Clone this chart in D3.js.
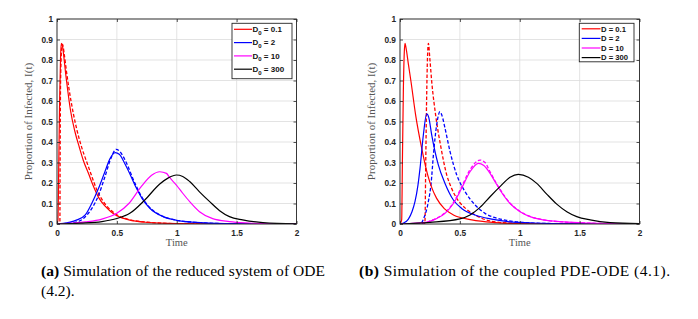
<!DOCTYPE html>
<html>
<head>
<meta charset="utf-8">
<script src="https://cdn.jsdelivr.net/npm/d3@7"></script>
<style>
  body { margin: 0; background: #fff; }
  svg { display: block; }
</style>
</head>
<body>
<svg id="chart" width="698" height="319"></svg>
<script>
// axis ticks
const xTicks = [0, 0.5, 1, 1.5, 2];
const xTickLabels = ['0', '0.5', '1', '1.5', '2'];
const yTicks = [0, 0.1, 0.2, 0.3, 0.4, 0.5, 0.6, 0.7, 0.8, 0.9, 1];
const yTickLabels = ['0', '0.1', '0.2', '0.3', '0.4', '0.5', '0.6', '0.7', '0.8', '0.9', '1'];

// legend entries (diffusion values) and colours
const diffValues = ['0.1', '2', '10', '300'];
const colors = ['#ff0000', '#0000ff', '#ff00ff', '#000000'];

// (a) reduced ODE system: [time, proportion infected]
const odeRed = [[0,0],[0.008,0.02],[0.015,0.3],[0.022,0.6],[0.03,0.82],[0.036,0.881],[0.045,0.87],[0.06,0.8],[0.075,0.72],[0.09,0.65],[0.114,0.55],[0.15,0.45],[0.186,0.375],[0.22,0.31],[0.264,0.245],[0.3,0.19],[0.347,0.13],[0.4,0.088],[0.45,0.06],[0.5,0.04],[0.6,0.02],[0.75,0.008],[1,0.002],[1.5,0],[2,0]];
const odeRedDash = [[0,0],[0.024,0],[0.026,0.3],[0.03,0.7],[0.04,0.86],[0.047,0.876],[0.06,0.83],[0.08,0.74],[0.1,0.66],[0.136,0.54],[0.17,0.45],[0.208,0.37],[0.25,0.3],[0.286,0.24],[0.33,0.17],[0.37,0.125],[0.42,0.085],[0.5,0.045],[0.6,0.022],[0.75,0.009],[1,0.002],[2,0]];
const odeBlue = [[0,0],[0.1,0.008],[0.167,0.02],[0.236,0.044],[0.29,0.1],[0.347,0.174],[0.4,0.255],[0.444,0.32],[0.486,0.348],[0.52,0.34],[0.57,0.29],[0.608,0.245],[0.65,0.19],[0.71,0.125],[0.775,0.077],[0.886,0.036],[1,0.018],[1.16,0.008],[1.4,0.002],[2,0]];
const odeBlueDash = [[0,0],[0.15,0.008],[0.2,0.018],[0.236,0.035],[0.29,0.075],[0.347,0.14],[0.4,0.23],[0.45,0.32],[0.494,0.364],[0.53,0.35],[0.57,0.31],[0.65,0.2],[0.71,0.13],[0.775,0.08],[0.886,0.037],[1,0.018],[1.16,0.008],[1.4,0.002],[2,0]];
const odeMagenta = [[0,0],[0.236,0.01],[0.375,0.024],[0.5,0.052],[0.6,0.1],[0.7,0.18],[0.79,0.238],[0.858,0.255],[0.914,0.247],[0.94,0.227],[0.997,0.19],[1.05,0.15],[1.108,0.109],[1.19,0.06],[1.3,0.026],[1.44,0.012],[1.6,0.005],[1.8,0.001],[2,0]];
const odeBlack = [[0,0],[0.2,0.004],[0.375,0.012],[0.5,0.027],[0.608,0.052],[0.733,0.117],[0.858,0.195],[0.93,0.225],[0.997,0.239],[1.05,0.232],[1.108,0.207],[1.19,0.157],[1.275,0.109],[1.358,0.065],[1.44,0.036],[1.55,0.02],[1.72,0.007],[2,0.001]];

// (b) coupled PDE-ODE
const pdeRed = [[0,0],[0.014,0.02],[0.02,0.3],[0.028,0.65],[0.036,0.84],[0.042,0.881],[0.05,0.86],[0.07,0.78],[0.092,0.694],[0.131,0.53],[0.181,0.37],[0.231,0.24],[0.27,0.17],[0.306,0.125],[0.37,0.075],[0.446,0.044],[0.6,0.02],[0.8,0.007],[1,0.002],[2,0]];
const pdeRedDash = [[0,0],[0.205,0],[0.209,0.02],[0.215,0.3],[0.222,0.6],[0.23,0.82],[0.237,0.881],[0.25,0.8],[0.265,0.694],[0.298,0.53],[0.343,0.37],[0.39,0.24],[0.43,0.175],[0.474,0.125],[0.55,0.075],[0.627,0.044],[0.75,0.015],[0.9,0.005],[1.2,0.001],[2,0]];
const pdeBlue = [[0,0],[0.03,0.005],[0.07,0.024],[0.1,0.06],[0.125,0.109],[0.15,0.19],[0.167,0.27],[0.195,0.434],[0.223,0.537],[0.24,0.52],[0.265,0.434],[0.32,0.288],[0.376,0.198],[0.446,0.117],[0.515,0.076],[0.627,0.044],[0.766,0.024],[0.9,0.012],[1.1,0.005],[1.5,0.001],[2,0]];
const pdeBlueDash = [[0,0],[0.17,0],[0.18,0.005],[0.2,0.03],[0.237,0.11],[0.26,0.2],[0.279,0.337],[0.306,0.483],[0.334,0.548],[0.35,0.53],[0.376,0.467],[0.418,0.353],[0.474,0.239],[0.543,0.158],[0.627,0.093],[0.71,0.052],[0.794,0.031],[0.9,0.017],[1,0.009],[1.2,0.003],[1.5,0.001],[2,0]];
const pdeMagenta = [[0,0],[0.1,0.003],[0.237,0.011],[0.3,0.025],[0.376,0.052],[0.446,0.1],[0.515,0.174],[0.585,0.255],[0.655,0.296],[0.7,0.285],[0.752,0.247],[0.794,0.206],[0.835,0.166],[0.919,0.1],[1.003,0.06],[1.086,0.036],[1.198,0.02],[1.365,0.01],[1.6,0.004],[2,0]];
const pdeMagentaDash = [[0,0],[0.19,0],[0.2,0.005],[0.237,0.012],[0.3,0.027],[0.376,0.055],[0.446,0.105],[0.515,0.182],[0.585,0.265],[0.668,0.312],[0.71,0.3],[0.752,0.255],[0.794,0.21],[0.835,0.17],[0.919,0.102],[1.003,0.061],[1.086,0.037],[1.198,0.02],[1.365,0.01],[1.6,0.004],[2,0]];
const pdeBlack = [[0,0],[0.25,0.008],[0.5,0.025],[0.585,0.044],[0.668,0.081],[0.752,0.133],[0.835,0.182],[0.919,0.228],[0.988,0.242],[1.072,0.228],[1.142,0.198],[1.225,0.146],[1.309,0.097],[1.393,0.06],[1.476,0.036],[1.588,0.02],[1.755,0.007],[2,0.002]];

const axisColor = '#262626';
const plotTop = 19, plotBottom = 224;

const panels = [
  {
    left: 57, right: 296.5,
    solid: [odeRed, odeBlue, odeMagenta, odeBlack],
    dashed: [odeRedDash, odeBlueDash],
    legend: { x: 232, y: 23.3, w: 60, h: 55.4, first: 6, row: 13.3, lineX: 234, textX: 252.5, sub: true, size: 8 },
    capX: 41, capBold: '(a)', capWidth: 284,
    capLines: [' Simulation of the reduced system of ODE', '(4.2).']
  },
  {
    left: 400, right: 639.5,
    solid: [pdeRed, pdeBlue, pdeMagenta, pdeBlack],
    dashed: [pdeRedDash, pdeBlueDash, pdeMagentaDash],
    legend: { x: 579.3, y: 23.3, w: 54.7, h: 38.5, first: 5.5, row: 9.6, lineX: 581.7, textX: 601, sub: false, size: 7.7 },
    capX: 359, capBold: '(b)', capWidth: 311,
    capLines: [' Simulation of the coupled PDE-ODE (4.1).']
  }
];

const svg = d3.select('#chart');

panels.forEach((p, pi) => {
  const x = d3.scaleLinear().domain([0, 2]).range([p.left, p.right]);
  const y = d3.scaleLinear().domain([0, 1]).range([plotBottom, plotTop]);
  const g = svg.append('g');

  // grid
  g.selectAll('.vg').data(xTicks).join('line')
    .attr('x1', d => x(d)).attr('x2', d => x(d))
    .attr('y1', plotTop).attr('y2', plotBottom)
    .attr('stroke', '#dcdcdc').attr('stroke-width', 0.8);
  g.selectAll('.hg').data(yTicks).join('line')
    .attr('x1', p.left).attr('x2', p.right)
    .attr('y1', d => y(d)).attr('y2', d => y(d))
    .attr('stroke', '#dcdcdc').attr('stroke-width', 0.8);

  // clip to plot box
  const clipId = 'clip' + pi;
  svg.append('clipPath').attr('id', clipId).append('rect')
    .attr('x', p.left).attr('y', plotTop - 1)
    .attr('width', p.right - p.left).attr('height', plotBottom - plotTop + 1);

  const line = d3.line()
    .x(d => x(d[0])).y(d => y(d[1]))
    .curve(d3.curveMonotoneX);

  const curves = g.append('g').attr('clip-path', `url(#${clipId})`);
  p.dashed.forEach((s, i) => {
    curves.append('path').datum(s)
      .attr('d', line).attr('fill', 'none')
      .attr('stroke', colors[i]).attr('stroke-width', 1.3)
      .attr('stroke-dasharray', '3.5,2');
  });
  p.solid.forEach((s, i) => {
    curves.append('path').datum(s)
      .attr('d', line).attr('fill', 'none')
      .attr('stroke', colors[i]).attr('stroke-width', 1.2);
  });

  // axes with inward ticks on all sides
  const fmtX = (d, i) => xTickLabels[i];
  const fmtY = (d, i) => yTickLabels[i];
  g.append('g').attr('transform', `translate(0,${plotBottom})`)
    .call(d3.axisBottom(x).tickValues(xTicks).tickFormat(fmtX).tickSizeInner(-3).tickSizeOuter(0).tickPadding(6));
  g.append('g').attr('transform', `translate(${p.left},0)`)
    .call(d3.axisLeft(y).tickValues(yTicks).tickFormat(fmtY).tickSizeInner(-3).tickSizeOuter(0).tickPadding(4));
  g.append('g').attr('transform', `translate(0,${plotTop})`)
    .call(d3.axisTop(x).tickValues(xTicks).tickFormat('').tickSizeInner(-3).tickSizeOuter(0));
  g.append('g').attr('transform', `translate(${p.right},0)`)
    .call(d3.axisRight(y).tickValues(yTicks).tickFormat('').tickSizeInner(-3).tickSizeOuter(0));

  g.selectAll('.domain').remove();
  g.selectAll('.tick line').attr('stroke', axisColor).attr('stroke-width', 0.8);
  g.selectAll('.tick text')
    .attr('fill', axisColor)
    .attr('font-family', 'Liberation Sans, Arial, sans-serif')
    .attr('font-size', 8.3).attr('font-weight', 'bold');

  g.append('rect')
    .attr('x', p.left).attr('y', plotTop)
    .attr('width', p.right - p.left).attr('height', plotBottom - plotTop)
    .attr('fill', 'none').attr('stroke', axisColor).attr('stroke-width', 0.9);

  // axis titles
  g.append('text')
    .attr('x', (p.left + p.right) / 2).attr('y', 246)
    .attr('text-anchor', 'middle')
    .attr('font-family', 'Liberation Serif, Times New Roman, serif')
    .attr('font-size', 10.5).attr('fill', '#555')
    .text('Time');
  g.append('text')
    .attr('transform', `translate(${p.left - 25},${(plotTop + plotBottom) / 2}) rotate(-90)`)
    .attr('text-anchor', 'middle')
    .attr('font-family', 'Liberation Serif, Times New Roman, serif')
    .attr('font-size', 11).attr('fill', '#555')
    .text('Proportion of Infected, I(t)');

  // legend
  const L = p.legend;
  const lg = g.append('g');
  lg.append('rect')
    .attr('x', L.x).attr('y', L.y).attr('width', L.w).attr('height', L.h)
    .attr('fill', '#fff').attr('stroke', axisColor).attr('stroke-width', 0.9);
  diffValues.forEach((v, i) => {
    const cy = L.y + L.first + i * L.row;
    lg.append('line')
      .attr('x1', L.lineX).attr('x2', L.textX - 0.5)
      .attr('y1', cy).attr('y2', cy)
      .attr('stroke', colors[i]).attr('stroke-width', 1.2);
    const t = lg.append('text')
      .attr('x', L.textX).attr('y', cy + 2.8)
      .attr('font-family', 'Liberation Sans, Arial, sans-serif')
      .attr('font-size', L.size).attr('font-weight', 'bold').attr('fill', '#111');
    t.append('tspan').text('D');
    if (L.sub) {
      t.append('tspan').attr('font-size', 6).attr('dy', 2.5).text('0');
      t.append('tspan').attr('dy', -2.5).text(' = ' + v);
    } else {
      t.append('tspan').text(' = ' + v);
    }
  });

  // caption
  p.capLines.forEach((txt, i) => {
    const c = svg.append('text')
      .attr('x', p.capX).attr('y', 276 + i * 19.5)
      .attr('font-family', 'Liberation Serif, Times New Roman, serif')
      .attr('font-size', 15.5).attr('fill', '#000');
    if (i === 0) {
      c.attr('textLength', p.capWidth).attr('lengthAdjust', 'spacing');
      c.append('tspan').attr('font-weight', 'bold').text(p.capBold);
    }
    c.append('tspan').text(txt);
  });
});
</script>
</body>
</html>
